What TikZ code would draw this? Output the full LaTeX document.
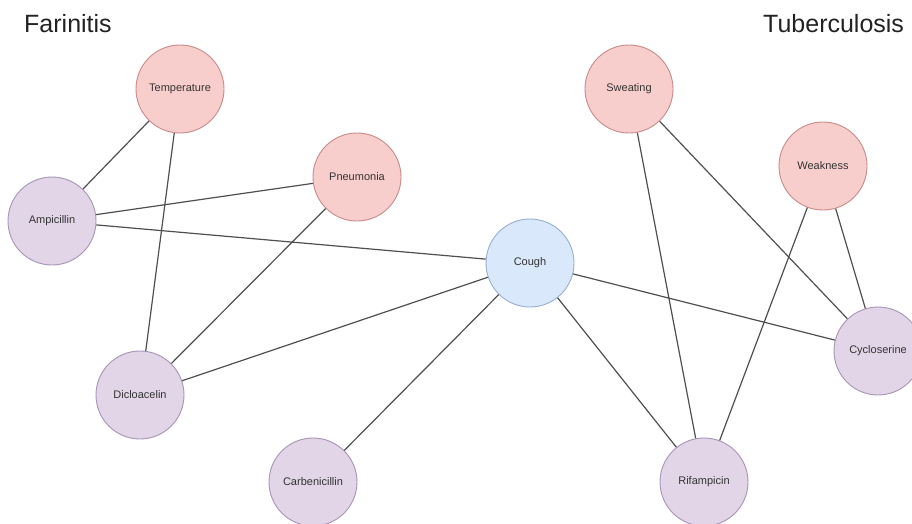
\documentclass[tikz,border=0pt]{standalone}
\usepackage{fontspec}
\setmainfont{Liberation Sans}
\begin{document}
\begin{tikzpicture}[x=1pt,y=-1pt,
  bubble/.style={circle,line width=0.9pt,minimum size=88pt,inner sep=0pt,font=\fontsize{11}{13}\selectfont,text=labeltext},
  symptom/.style={bubble,draw=symstroke,fill=symfill},
  drug/.style={bubble,draw=drugstroke,fill=drugfill},
  shared/.style={bubble,draw=sharedstroke,fill=sharedfill},
  link/.style={draw=linkcol,line width=1.2pt},
  heading/.style={anchor=base west,inner sep=0pt,font=\fontsize{25}{30}\selectfont,text=headtext}]
\definecolor{symfill}{HTML}{F8CECC}
\definecolor{symstroke}{HTML}{C98A88}
\definecolor{drugfill}{HTML}{E1D5E7}
\definecolor{drugstroke}{HTML}{A894B6}
\definecolor{sharedfill}{HTML}{DAE8FC}
\definecolor{sharedstroke}{HTML}{96AED3}
\definecolor{linkcol}{HTML}{4F4F4F}
\definecolor{labeltext}{HTML}{333333}
\definecolor{headtext}{HTML}{222222}
\useasboundingbox (0,0) rectangle (912,524);

% group titles
\node[heading] (farinitis) at (24,33) {Farinitis};
\node[heading] (tuberculosis) at (763,33) {Tuberculosis};

% nodes
\node[symptom] (temperature) at (180,89) {Temperature};
\node[symptom] (pneumonia) at (357,177) {Pneumonia};
\node[drug] (ampicillin) at (52,221) {Ampicillin};
\node[drug] (dicloacelin) at (140,395) {Dicloacelin};
\node[drug] (carbenicillin) at (313,482) {Carbenicillin};
\node[shared] (cough) at (530,263) {Cough};
\node[symptom] (sweating) at (629,89) {Sweating};
\node[symptom] (weakness) at (823,166) {Weakness};
\node[drug] (cycloserine) at (878,351) {Cycloserine};
\node[drug] (rifampicin) at (704,482) {Rifampicin};

% connectors
\draw[link] (temperature) -- (ampicillin);
\draw[link] (temperature) -- (dicloacelin);
\draw[link] (pneumonia) -- (ampicillin);
\draw[link] (pneumonia) -- (dicloacelin);
\draw[link] (ampicillin) -- (cough);
\draw[link] (dicloacelin) -- (cough);
\draw[link] (carbenicillin) -- (cough);
\draw[link] (cough) -- (cycloserine);
\draw[link] (cough) -- (rifampicin);
\draw[link] (sweating) -- (rifampicin);
\draw[link] (sweating) -- (cycloserine);
\draw[link] (weakness) -- (rifampicin);
\draw[link] (weakness) -- (cycloserine);
\end{tikzpicture}
\end{document}
